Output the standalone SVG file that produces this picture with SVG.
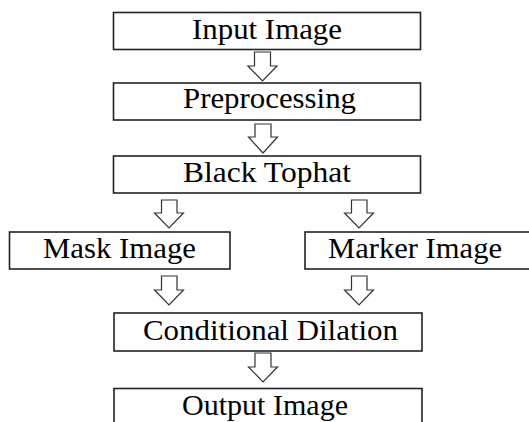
<svg xmlns="http://www.w3.org/2000/svg" width="529" height="422" viewBox="0 0 529 422">
<style>
.box{fill:#fff;stroke:#222;stroke-width:1.6}
.lbl{font-family:"Liberation Serif","Times New Roman",serif;font-size:29px;fill:#000;text-anchor:middle}
.arr{fill:#fff;stroke:#333;stroke-width:1.2;stroke-linejoin:miter}
</style>
<rect width="529" height="422" fill="#fff"/>
<g id="connectors">
<polygon class="arr" points="254.5,52 270.5,52 270.5,66 277,66 262.5,81 248,66 254.5,66"/>
<polygon class="arr" points="255,124 271,124 271,137 277.5,137 263,153 248.5,137 255,137"/>
<polygon class="arr" points="161.5,200 177,200 177,213 183.5,213 169,228 154.5,213 161.5,213"/>
<polygon class="arr" points="351.5,200 367,200 367,213 373.5,213 359,228 344.5,213 351.5,213"/>
<polygon class="arr" points="161.5,276 177,276 177,290 183.5,290 169,305 154.5,290 161.5,290"/>
<polygon class="arr" points="351.5,276 367,276 367,290 373.5,290 359,305 344.5,290 351.5,290"/>
<polygon class="arr" points="255,353 271,353 271,367 277.5,367 263,382 248.5,367 255,367"/>
</g>
<g id="input">
<rect class="box" x="113.5" y="12.5" width="307" height="37"/>
<text class="lbl" x="267" y="39" textLength="150" lengthAdjust="spacingAndGlyphs">Input Image</text>
</g>
<g id="preprocessing">
<rect class="box" x="113.5" y="83" width="307" height="37"/>
<text class="lbl" x="269.5" y="108" textLength="173" lengthAdjust="spacingAndGlyphs">Preprocessing</text>
</g>
<g id="tophat">
<rect class="box" x="113.5" y="156" width="307" height="37"/>
<text class="lbl" x="267" y="182" textLength="168" lengthAdjust="spacingAndGlyphs">Black Tophat</text>
</g>
<g id="mask">
<rect class="box" x="9.5" y="232" width="220.5" height="37"/>
<text class="lbl" x="119.5" y="258" textLength="153" lengthAdjust="spacingAndGlyphs">Mask Image</text>
</g>
<g id="marker">
<rect class="box" x="305" y="232" width="240" height="37"/>
<text class="lbl" x="415" y="258" textLength="174" lengthAdjust="spacingAndGlyphs">Marker Image</text>
</g>
<g id="dilation">
<rect class="box" x="114" y="313" width="308" height="38"/>
<text class="lbl" x="270.5" y="340" textLength="255" lengthAdjust="spacingAndGlyphs">Conditional Dilation</text>
</g>
<g id="output">
<rect class="box" x="114" y="388.5" width="308" height="50"/>
<text class="lbl" x="265" y="415" textLength="166" lengthAdjust="spacingAndGlyphs">Output Image</text>
</g>
</svg>
